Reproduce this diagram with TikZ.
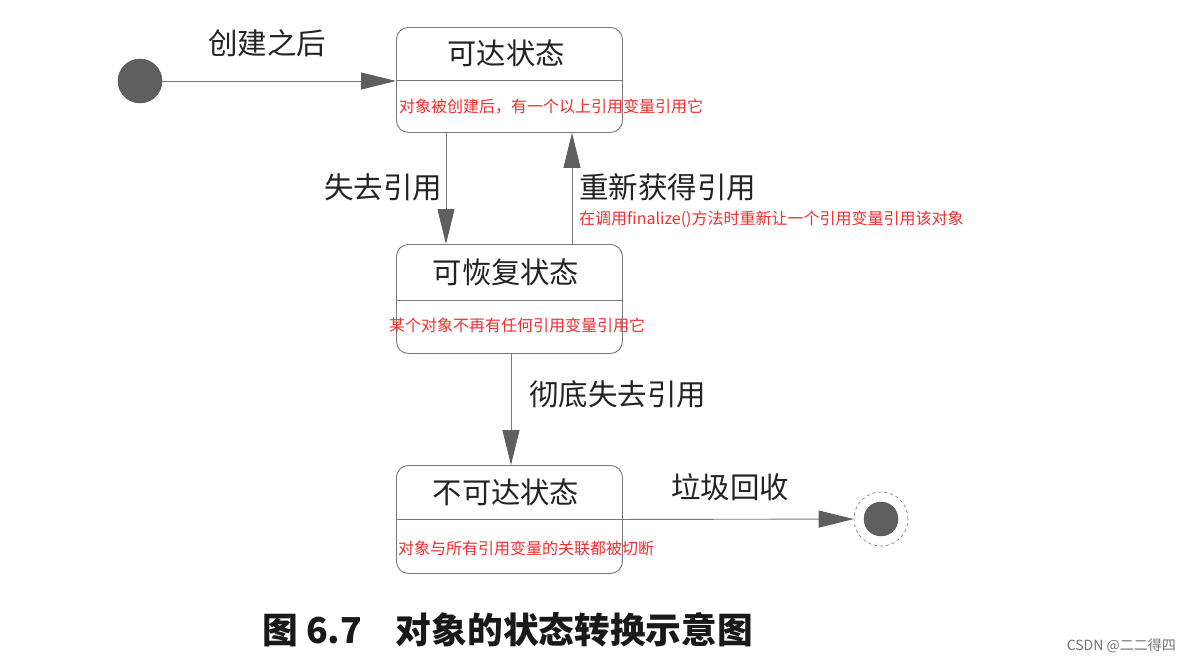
\documentclass[tikz,border=0pt]{standalone}
\usepackage{fontspec}
\setmainfont{Noto Sans CJK SC}
\usetikzlibrary{arrows.meta}
\definecolor{lineg}{RGB}{120,120,120}
\definecolor{dotg}{RGB}{95,95,95}
\definecolor{redt}{RGB}{245,45,45}
\definecolor{labk}{RGB}{35,35,35}
\tikzset{
  statebox/.style={draw=lineg, line width=0.9pt, rounded corners=12pt, anchor=north west, minimum width=226pt, inner sep=0pt},
  divider/.style={draw=lineg, line width=0.9pt},
  flow/.style={draw=lineg, line width=0.9pt, -{Triangle[length=35pt,width=17pt,fill=dotg,color=dotg]}},
  title/.style={font=\fontsize{29.3}{32}\selectfont, text=labk, inner sep=0pt},
  lab/.style={font=\fontsize{29.5}{32}\selectfont, text=labk, inner sep=0pt},
  note/.style={font=\fontsize{16}{19}\selectfont, text=redt, inner sep=0pt, anchor=west},
  dot/.style={circle, fill=dotg, draw=dotg!80!black, line width=0.4pt, inner sep=0pt}
}
\begin{document}
\begin{tikzpicture}[x=1pt,y=-1pt]
\useasboundingbox[fill=white] (0,0) rectangle (1191,664);
% states
\node[statebox, minimum height=105pt] (s1) at (396,27) {};
\node[statebox, minimum height=109pt] (s2) at (396,244) {};
\node[statebox, minimum height=108pt] (s3) at (396,465) {};
\draw[divider] ([yshift=-53pt]s1.north west) -- ([yshift=-53pt]s1.north east);
\draw[divider] ([yshift=-56pt]s2.north west) -- ([yshift=-56pt]s2.north east);
\draw[divider] (s3.west) -- (s3.east);
\node[title] (t1) at (506,53) {可达状态};
\node[title] (t2) at (506,272) {可恢复状态};
\node[title] (t3) at (506,492) {不可达状态};
\node[note] (n1) at (399,107) {对象被创建后，有一个以上引用变量引用它};
\node[note] (n2) at (389,325) {某个对象不再有任何引用变量引用它};
\node[note] (n3) at (398,548) {对象与所有引用变量的关联都被切断};
% start and end
\node[dot, minimum size=44pt] (start) at (140,81) {};
\node[circle, draw=lineg, dashed, line width=0.6pt, minimum size=54pt, inner sep=0pt] (end) at (881,519) {};
\node[dot, minimum size=34pt] (endin) at (end.center) {};
% connectors
\draw[flow] (start) -- (start -| s1.west);
\draw[flow] ([xshift=50pt]s1.south west) -- ([xshift=50pt]s2.north west);
\draw[flow] ([xshift=176pt]s2.north west) -- ([xshift=176pt]s1.south west);
\draw[flow] ([xshift=115pt]s2.south west) -- ([xshift=115pt]s3.north west);
\draw[flow] (s3.east) -- (end);
% labels
\node[lab] (l1) at (267,43) {创建之后};
\node[lab] (l2) at (383,187) {失去引用};
\node[lab, anchor=west] (l3) at (579,187) {重新获得引用};
\node[note] (n4) at (579,219) {在调用finalize()方法时重新让一个引用变量引用该对象};
\node[lab, anchor=west] (l4) at (529,394) {彻底失去引用};
\node[lab, anchor=west] (l5) at (671,487) {垃圾回收};
% caption
\node[anchor=west, inner sep=0pt, font=\fontsize{35.7}{40}\selectfont\bfseries, text=black!90] (cap) at (262,630) {图 6.7\hspace{0.95em}对象的状态转换示意图};
\node[anchor=east, inner sep=0pt, font=\fontsize{14}{17}\selectfont, text=black!55] (wm) at (1176,646) {CSDN @二二得四};
\end{tikzpicture}
\end{document}
